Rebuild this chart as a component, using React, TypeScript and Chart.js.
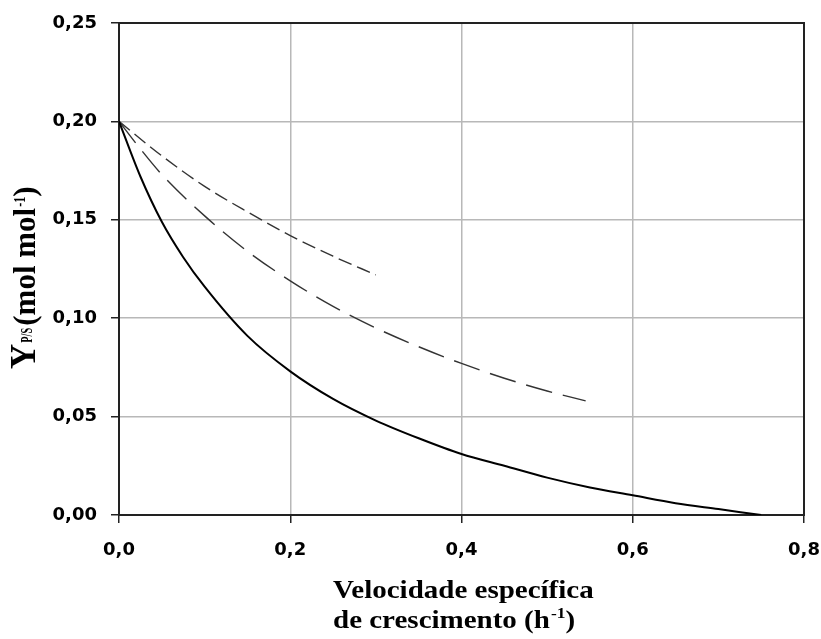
import React, { useEffect, useRef } from "react";
import { Chart, registerables } from "chart.js";

Chart.register(...registerables);

// Solid curve
const muSolid = [0, 0.025, 0.05, 0.075, 0.1, 0.15, 0.2, 0.25, 0.3, 0.35, 0.4, 0.45, 0.5, 0.55, 0.6, 0.65, 0.7, 0.75];
const ypsSolid = [0.2, 0.172, 0.149, 0.131, 0.116, 0.091, 0.073, 0.059, 0.048, 0.039, 0.031, 0.025, 0.019, 0.014, 0.01, 0.006, 0.003, 0.0];
// Long-dash curve
const muLongDash = [0, 0.025, 0.05, 0.1, 0.15, 0.2, 0.25, 0.3, 0.35, 0.4, 0.45, 0.5, 0.545];
const ypsLongDash = [0.2, 0.186, 0.173, 0.152, 0.134, 0.119, 0.106, 0.095, 0.0855, 0.077, 0.0695, 0.063, 0.058];
// Short-dash curve
const muShortDash = [0, 0.05, 0.1, 0.15, 0.2, 0.25, 0.3];
const ypsShortDash = [0.2, 0.1825, 0.167, 0.154, 0.142, 0.1315, 0.122];

const xMin = 0;
const xMax = 0.8;
const xStep = 0.2;
const yMin = 0;
const yMax = 0.25;
const yStep = 0.05;

const xTitleLine1 = "Velocidade específica";
const xTitleLine2 = "de crescimento (h";
const xTitleSup = "-1";
const xTitleClose = ")";
const yTitleMain = "Y";
const yTitleSub = "P/S";
const yTitleUnit = "(mol mol";
const yTitleSup = "-1";
const yTitleClose = ")";

const toPts = (xs: number[], ys: number[]) => xs.map((x, i) => ({ x, y: ys[i] }));

const SERIF = "'Liberation Serif', 'Times New Roman', serif";

const framePlugin = {
  id: "frameAndTitles",
  beforeDatasetsDraw(chart: any) {
    const { ctx, chartArea } = chart;
    ctx.save();
    ctx.strokeStyle = "#222";
    ctx.lineWidth = 2;
    ctx.strokeRect(chartArea.left, chartArea.top, chartArea.right - chartArea.left, chartArea.bottom - chartArea.top);
    ctx.restore();
  },
  afterDraw(chart: any) {
    const { ctx, chartArea } = chart;
    ctx.save();
    ctx.fillStyle = "#000";
    ctx.textAlign = "left";
    ctx.textBaseline = "alphabetic";

    // X title (two lines, left aligned, slightly stretched)
    const sx = 1.16;
    const xl = chartArea.left + 214;
    ctx.save();
    ctx.translate(xl, 598);
    ctx.scale(sx, 1);
    ctx.font = `bold 25px ${SERIF}`;
    ctx.fillText(xTitleLine1, 0, 0);
    ctx.restore();

    ctx.save();
    ctx.translate(xl, 628);
    ctx.scale(sx, 1);
    ctx.font = `bold 25px ${SERIF}`;
    let cx = 0;
    ctx.fillText(xTitleLine2, cx, 0);
    cx += ctx.measureText(xTitleLine2).width;
    ctx.font = `bold 15px ${SERIF}`;
    ctx.fillText(xTitleSup, cx + 1, -10);
    cx += ctx.measureText(xTitleSup).width + 1;
    ctx.font = `bold 25px ${SERIF}`;
    ctx.fillText(xTitleClose, cx, 0);
    ctx.restore();

    // Y title (rotated)
    ctx.save();
    ctx.translate(35, 369);
    ctx.rotate(-Math.PI / 2);
    let rx = 0;
    ctx.font = `bold 35px ${SERIF}`;
    ctx.fillText(yTitleMain, rx, 0);
    rx += ctx.measureText(yTitleMain).width + 1;
    ctx.font = `bold 17px ${SERIF}`;
    ctx.fillText(yTitleSub, rx, -3, 15);
    rx += 17;
    ctx.font = `bold 31px ${SERIF}`;
    ctx.fillText(yTitleUnit, rx, 0);
    rx += ctx.measureText(yTitleUnit).width;
    ctx.font = `bold 16px ${SERIF}`;
    ctx.fillText(yTitleSup, rx + 1, -10, 10);
    rx += 11;
    ctx.font = `bold 31px ${SERIF}`;
    ctx.fillText(yTitleClose, rx, 0);
    ctx.restore();

    ctx.restore();
  },
};

export default function App() {
  const canvasRef = useRef<HTMLCanvasElement | null>(null);

  useEffect(() => {
    const canvas = canvasRef.current;
    if (!canvas) return;
    const tickFont = { family: "'DejaVu Sans', sans-serif", weight: "bold" as const, size: 18 };
    const chart = new Chart(canvas, {
      type: "line",
      data: {
        datasets: [
          {
            label: "solid",
            data: toPts(muSolid, ypsSolid),
            borderColor: "#000",
            borderWidth: 2,
            pointRadius: 0,
            fill: false,
            cubicInterpolationMode: "monotone",
          },
          {
            label: "long dash",
            data: toPts(muLongDash, ypsLongDash),
            borderColor: "#333",
            borderWidth: 1.4,
            borderDash: [27, 11],
            pointRadius: 0,
            fill: false,
            cubicInterpolationMode: "monotone",
          },
          {
            label: "short dash",
            data: toPts(muShortDash, ypsShortDash),
            borderColor: "#333",
            borderWidth: 1.4,
            borderDash: [14, 6],
            pointRadius: 0,
            fill: false,
            cubicInterpolationMode: "monotone",
          },
        ],
      },
      options: {
        responsive: false,
        animation: false,
        devicePixelRatio: 1,
        layout: { padding: { top: 23, right: 17, left: 0, bottom: 0 } },
        plugins: { legend: { display: false }, tooltip: { enabled: false } },
        scales: {
          x: {
            type: "linear",
            min: xMin,
            max: xMax,
            grid: {
              color: "#b8b8b8",
              lineWidth: 1.5,
              drawTicks: true,
              tickLength: 8,
              tickColor: "#222",
              tickWidth: 1.5,
            },
            border: { display: true, color: "#222", width: 2 },
            ticks: {
              stepSize: xStep,
              color: "#000",
              font: tickFont,
              padding: 17,
              maxRotation: 0,
              callback: (v: any) => Number(v).toFixed(1).replace(".", ","),
            },
            afterFit: (s: any) => {
              s.height = 124;
              s.paddingLeft = 0;
              s.paddingRight = 0;
            },
          },
          y: {
            type: "linear",
            min: yMin,
            max: yMax,
            grid: {
              color: "#b8b8b8",
              lineWidth: 1.5,
              drawTicks: true,
              tickLength: 8,
              tickColor: "#222",
              tickWidth: 1.5,
            },
            border: { display: true, color: "#222", width: 2 },
            ticks: {
              stepSize: yStep,
              color: "#000",
              font: tickFont,
              padding: 14,
              callback: (v: any) => Number(v).toFixed(2).replace(".", ","),
            },
            afterFit: (s: any) => {
              s.width = 119;
              s.paddingTop = 0;
              s.paddingBottom = 0;
            },
          },
        },
      },
      plugins: [framePlugin],
    });
    return () => chart.destroy();
  }, []);

  return (
    <div style={{ position: "absolute", left: 0, top: 0, width: 821, height: 639, background: "#fff" }}>
      <canvas ref={canvasRef} width={821} height={639} style={{ display: "block" }} />
    </div>
  );
}
